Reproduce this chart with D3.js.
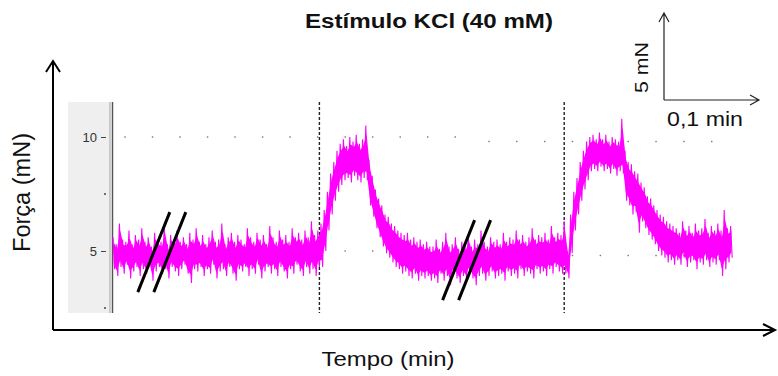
<!DOCTYPE html>
<html><head><meta charset="utf-8">
<script src="https://cdn.jsdelivr.net/npm/d3@7"></script>
<style>body{margin:0;background:#fff}svg{display:block}</style>
</head><body>
<script>
// ---- data (force in mN, one sample every 0.2 s) ----
const sampleStep = 0.2;
const forceHigh = [
 5.6,5.3,6.2,5.5,5.4,5.9,5.3,5.7,5.5,6.0,5.4,5.6,5.2,5.8,5.5,5.4,6.1,5.3,5.7,5.5,
 5.9,5.4,5.6,5.3,5.8,5.5,6.0,5.4,5.7,5.3,5.6,5.9,5.4,5.5,6.2,5.3,5.6,5.8,5.4,5.7,
 5.5,5.3,6.0,5.6,5.4,5.8,5.5,5.7,5.3,6.1,5.6,5.4,5.9,5.5,5.7,5.4,6.0,5.6,5.8,5.5,
 5.9,5.6,6.3,5.7,5.9,
 6.2,6.8,7.6,8.4,8.9,9.4,9.7,9.9,9.6,10.0,9.8,10.1,9.7,9.9,10.5,9.0,8.3,7.7,7.3,7.0,
 6.6,6.5,6.2,6.1,5.9,5.8,5.7,5.8,5.5,5.6,5.4,5.5,5.3,5.4,5.2,
 5.2,5.5,5.1,5.4,5.8,5.2,5.3,5.6,5.1,5.4,5.3,5.7,5.2,5.5,5.3,5.9,5.4,5.2,5.6,5.4,
 5.5,5.3,5.8,5.4,5.6,5.5,5.9,5.5,5.7,5.4,5.6,6.0,5.5,5.7,5.6,5.8,5.5,6.1,5.6,5.8,5.7,
 6.3,5.0,6.6,7.6,8.2,8.9,9.4,9.8,10.0,10.1,9.9,10.2,9.9,10.1,9.8,10.0,9.9,9.8,10.8,9.4,
 8.9,8.8,8.5,8.4,8.0,7.8,7.4,7.3,7.0,6.8,6.6,6.5,6.3,6.2,6.1,
 6.0,5.8,6.3,5.9,6.1,5.8,6.2,5.9,6.0,6.4,5.8,6.1,5.9,6.2,5.9,6.8,6.0,6.1
];
const forceLow = [
 4.2,3.9,4.3,4.0,4.4,3.8,4.1,4.3,3.9,4.2,4.0,4.4,3.7,4.1,4.3,4.0,4.2,3.8,4.3,4.1,
 3.9,4.2,4.4,4.0,3.6,4.2,4.1,4.3,3.9,4.2,4.0,4.4,3.8,4.1,4.2,3.9,4.3,4.0,3.7,4.2,
 4.1,4.3,3.9,4.2,4.0,4.4,3.8,4.1,4.3,4.0,4.2,3.9,4.3,4.1,3.8,4.2,4.0,4.4,4.1,3.9,
 4.3,4.0,4.2,3.9,4.3,
 4.3,5.0,5.9,6.6,7.2,7.6,7.9,8.1,8.2,8.0,8.3,8.1,8.0,8.2,8.1,7.0,6.5,6.0,5.6,5.2,
 4.9,4.7,4.5,4.3,4.2,4.0,4.1,3.9,3.8,4.0,3.7,3.9,3.8,3.9,3.7,
 3.8,3.6,4.0,3.7,3.9,3.5,4.0,3.8,3.6,3.9,3.7,4.0,3.8,3.5,3.9,4.0,3.7,3.9,4.1,3.8,
 3.9,4.0,3.7,4.1,3.9,4.0,3.8,4.2,3.9,4.1,4.0,3.8,4.2,4.0,4.1,3.9,4.2,4.0,4.3,4.1,4.0,
 4.0,3.8,4.9,5.9,6.6,7.2,7.7,8.1,8.5,8.6,8.5,8.7,8.5,8.6,8.4,8.6,8.3,8.5,8.4,7.2,
 7.0,6.6,6.7,5.8,6.3,6.0,5.7,5.5,5.3,5.0,4.8,4.7,4.5,4.6,4.4,
 4.6,4.4,4.7,4.3,4.5,4.6,4.2,4.5,4.4,4.6,4.3,4.5,4.4,4.6,3.9,4.2,4.5,4.7
];
const stimulusTimes = [12.9, 28.2];          // s, dashed markers (KCl added)
const breakTimes = [3.05, 22.1];             // s, axis breaks
const breakForces = [4.95, 4.6];             // mN
const yTicks = [5, 10];
const yMinorTicks = [2.5, 7.5];
const gridForces = [5, 10];
const gridLeftTimes = d3.range(0, 13).map(k => 0.75 + k * 1.72);
const gridRightTimes = d3.range(0, 9).map(k => 23.5 + k * 1.74);
const titleText = "Estímulo KCl (40 mM)";
const yLabelText = "Força (mN)";
const xLabelText = "Tempo (min)";
const scaleForceText = "5 mN";
const scaleTimeText = "0,1 min";
const scaleBarTime = 6;   // s (= 0.1 min)

// ---- layout ----
const W = 778, H = 376;
const svg = d3.select("body").append("svg").attr("width", W).attr("height", H)
  .style("font-family", "Arial, 'Liberation Sans', sans-serif");

const tEnd = (forceHigh.length - 1) * sampleStep + sampleStep / 2;
const x = d3.scaleLinear().domain([0, tEnd]).range([113, 113 + 16 * tEnd]);
const y = d3.scaleLinear().domain([5, 10]).range([251, 137]);
const panelTop = 102, panelBottom = 313;

// grey left panel with axis labels
svg.append("rect").attr("x", 68).attr("y", panelTop).attr("width", 42)
  .attr("height", panelBottom - panelTop).attr("fill", "#efefef");
svg.append("line").attr("x1", 110).attr("x2", 110).attr("y1", panelTop).attr("y2", panelBottom)
  .attr("stroke", "#a0a0a0").attr("stroke-width", 1);
svg.append("line").attr("x1", 112.5).attr("x2", 112.5).attr("y1", panelTop).attr("y2", panelBottom)
  .attr("stroke", "#555").attr("stroke-width", 1.5);

const yAxis = d3.axisLeft(y).tickValues(yTicks).tickSize(5).tickPadding(4).tickFormat(d3.format("d"));
const ya = svg.append("g").attr("transform", "translate(106,0)").call(yAxis);
ya.select(".domain").remove();
ya.selectAll("line").attr("stroke", "#444");
ya.selectAll("text").attr("font-size", 13).attr("fill", "#333")
  .attr("font-family", "Arial, 'Liberation Sans', sans-serif");
svg.selectAll(".minor").data(yMinorTicks).join("line").attr("class", "minor")
  .attr("x1", 104).attr("x2", 106).attr("y1", d => y(d)).attr("y2", d => y(d))
  .attr("stroke", "#444").attr("stroke-width", 1.5);

// dotted grid
const gl = svg.append("g");
gridForces.forEach(f => {
  gl.selectAll(null).data(gridLeftTimes).join("rect")
    .attr("x", d => x(d) - 0.7).attr("y", y(f) - 0.7).attr("width", 1.4).attr("height", 1.4).attr("fill", "#777");
  gl.selectAll(null).data(gridRightTimes).join("rect")
    .attr("x", d => x(d) - 0.7).attr("y", y(f) + 4.5 - 0.7).attr("width", 1.4).attr("height", 1.4).attr("fill", "#777");
});

// stimulus dashed lines
svg.selectAll(".stim").data(stimulusTimes).join("line").attr("class", "stim")
  .attr("x1", d => x(d)).attr("x2", d => x(d)).attr("y1", panelTop).attr("y2", panelBottom)
  .attr("stroke", "#222").attr("stroke-width", 1.4).attr("stroke-dasharray", "3,2");

// force trace: dense core band + min/max zigzag
const samples = forceHigh.map((h, i) => ({ t: i * sampleStep, hi: h, lo: forceLow[i] }));
const core = d3.area()
  .x(d => x(d.t + sampleStep / 4))
  .y0(d => y((d.hi + d.lo) / 2 - 0.34 * (d.hi - d.lo)))
  .y1(d => y((d.hi + d.lo) / 2 + 0.34 * (d.hi - d.lo)));
svg.append("path").attr("d", core(samples)).attr("fill", "#ff00ff");
const pts = [];
samples.forEach(d => {
  pts.push([x(d.t), y(d.hi)]);
  pts.push([x(d.t + sampleStep / 2), y(d.lo)]);
});
svg.append("path").attr("d", d3.line()(pts)).attr("fill", "none")
  .attr("stroke", "#ff00ff").attr("stroke-width", 1.1).attr("stroke-linejoin", "miter");

// break marks
breakTimes.forEach((t, i) => {
  const cx = x(t), cy = y(breakForces[i]);
  [-8, 8].forEach(off => {
    svg.append("line").attr("x1", cx + off - 16).attr("y1", cy + 40)
      .attr("x2", cx + off + 16).attr("y2", cy - 40)
      .attr("stroke", "#000").attr("stroke-width", 3);
  });
});

// main axes with arrows
const axisY = 330, axisX = 53;
svg.append("path").attr("d", `M${axisX},${axisY}H775M763,${axisY-6}L775,${axisY}L763,${axisY+6}`)
  .attr("fill", "none").attr("stroke", "#000").attr("stroke-width", 2);
svg.append("path").attr("d", `M${axisX},${axisY}V61M${axisX-7},72L${axisX},61L${axisX+7},72`)
  .attr("fill", "none").attr("stroke", "#000").attr("stroke-width", 2);

// scale bar
const sbX = 664, sbY = 100;
const sbLen = x(scaleBarTime) - x(0);
svg.append("path").attr("d", `M${sbX},${sbY}V13M${sbX-5},22L${sbX},13L${sbX+5},22M${sbX},${sbY}H${sbX+sbLen-1}M${sbX+sbLen-10},${sbY-5}L${sbX+sbLen-1},${sbY}L${sbX+sbLen-10},${sbY+5}`)
  .attr("fill", "none").attr("stroke", "#222").attr("stroke-width", 1.2);
svg.append("text").attr("x", 667).attr("y", 126).attr("font-size", 19.5).attr("fill", "#111")
  .attr("textLength", 76).attr("lengthAdjust", "spacingAndGlyphs").text(scaleTimeText);
svg.append("text").attr("transform", "translate(648,67.5) rotate(-90)").attr("text-anchor", "middle")
  .attr("font-size", 19).attr("fill", "#111")
  .attr("textLength", 51).attr("lengthAdjust", "spacingAndGlyphs").text(scaleForceText);

// titles
svg.append("text").attr("x", 429).attr("y", 28).attr("text-anchor", "middle")
  .attr("font-size", 20).attr("font-weight", "bold").attr("fill", "#111")
  .attr("textLength", 248).attr("lengthAdjust", "spacingAndGlyphs").text(titleText);
svg.append("text").attr("transform", "translate(30,192.5) rotate(-90)").attr("text-anchor", "middle")
  .attr("font-size", 23).attr("fill", "#111")
  .attr("textLength", 119).attr("lengthAdjust", "spacingAndGlyphs").text(yLabelText);
svg.append("text").attr("x", 388).attr("y", 366).attr("text-anchor", "middle")
  .attr("font-size", 21).attr("fill", "#111")
  .attr("textLength", 133).attr("lengthAdjust", "spacingAndGlyphs").text(xLabelText);
</script>
</body></html>
